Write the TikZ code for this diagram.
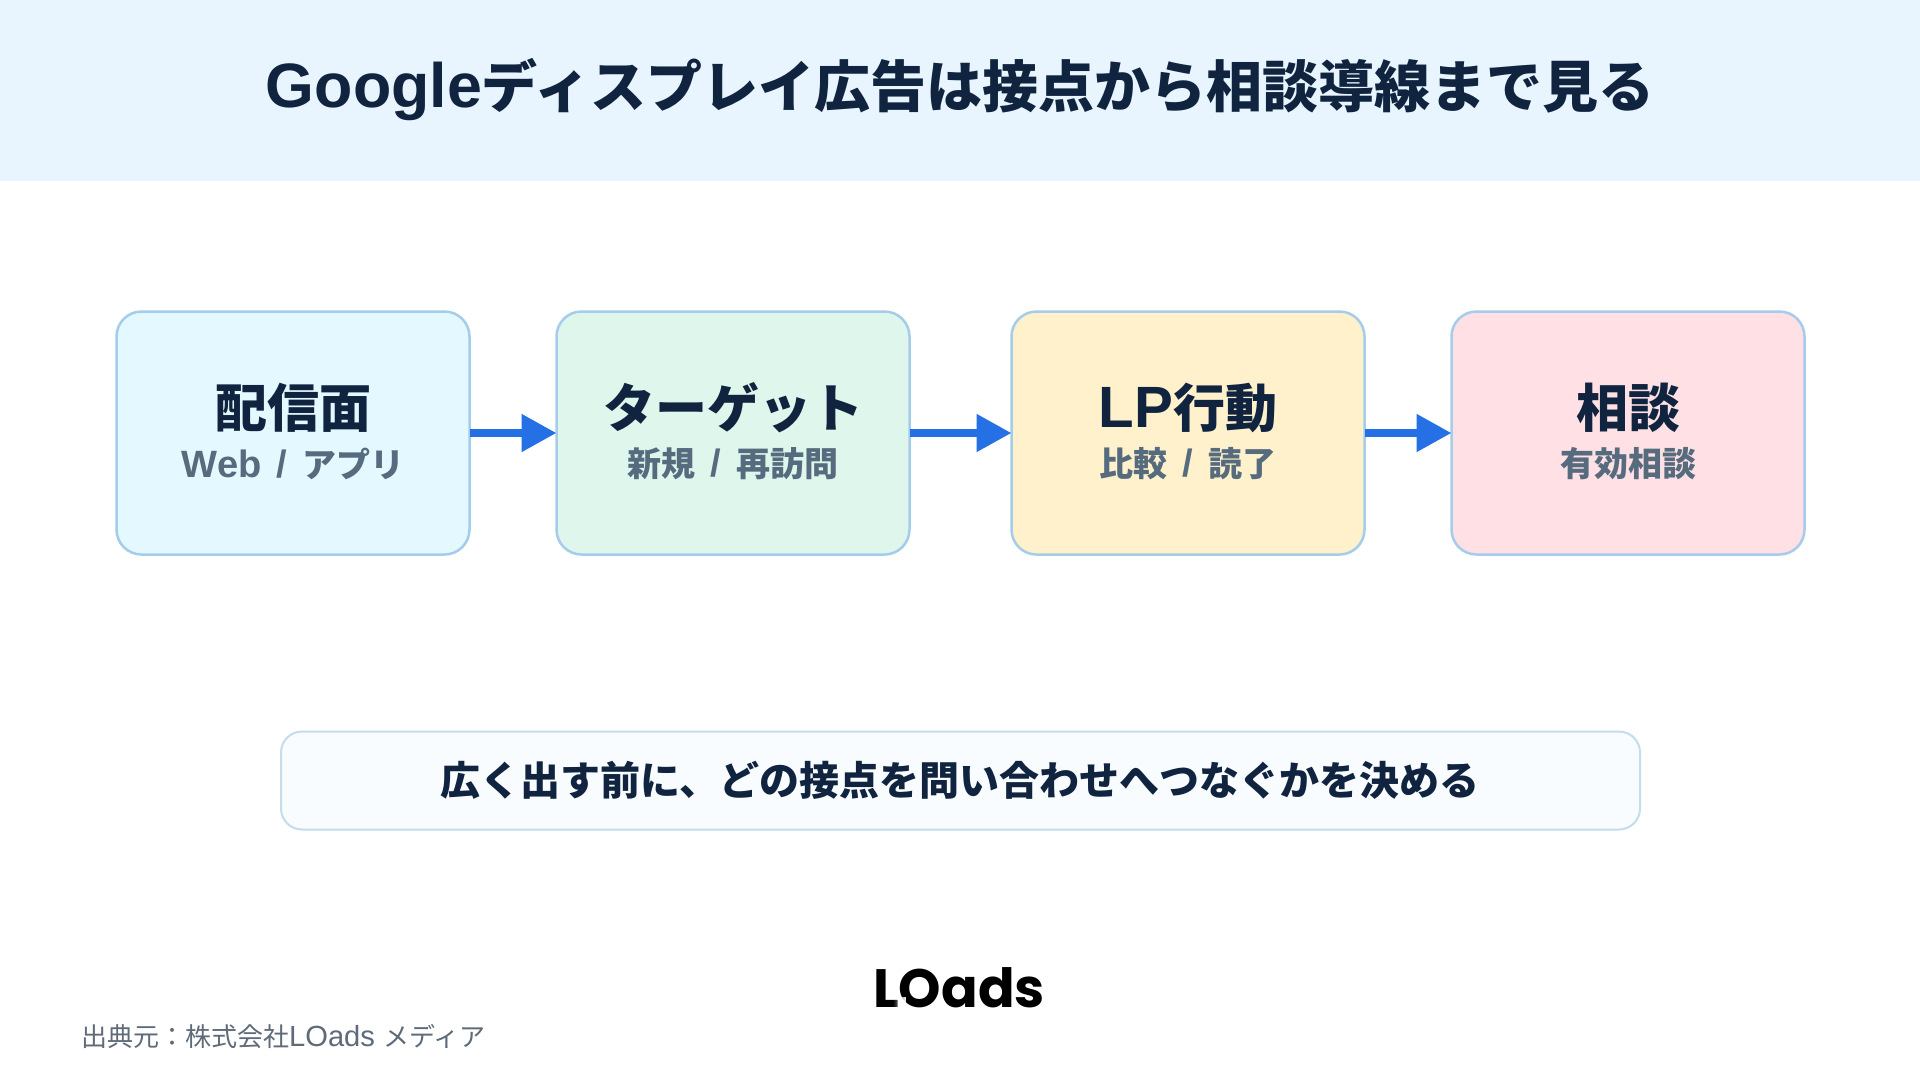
\documentclass[tikz,border=0pt]{standalone}
\usepackage{fontspec}
\usetikzlibrary{arrows.meta,fadings}
\setmainfont{Noto Sans CJK JP}
\newfontfamily\logofont{Poppins}
\newfontfamily\latf[Scale=1.12]{Liberation Sans}
\newcommand{\lt}[1]{{\latf #1}}
\newcommand{\slashsep}{\hspace{.44em}{\latf /}\hspace{.44em}}
\definecolor{ink}{HTML}{10233F}
\definecolor{subink}{HTML}{566B7E}
\definecolor{edge}{HTML}{A5CCEB}
\definecolor{headbg}{HTML}{E8F5FF}
\definecolor{flow}{HTML}{2470E4}
\definecolor{cA}{HTML}{E3F8FF}
\definecolor{cB}{HTML}{DFF6EC}
\definecolor{cC}{HTML}{FFF1CC}
\definecolor{cD}{HTML}{FFE0E4}
\definecolor{noteedge}{HTML}{C3DDEB}
\definecolor{notefill}{HTML}{F8FCFF}
\definecolor{srcink}{HTML}{5F6B7A}
\tikzset{
  x=1pt,y=-1pt,
  stage/.style={draw=edge,line width=2.5pt,rounded corners=25pt,minimum width=353pt,minimum height=243pt,inner sep=0pt,outer sep=0pt,anchor=center},
  mainlab/.style={inner sep=0pt,text=ink,font=\fontsize{52}{60}\selectfont\bfseries},
  sublab/.style={inner sep=0pt,text=subink,font=\fontsize{34}{42}\selectfont\bfseries},
  flowarrow/.style={draw=flow,line width=8pt,-{Triangle[length=35pt,width=36pt]}},
}
\begin{document}
\begin{tikzpicture}
\useasboundingbox (0,0) rectangle (1920,1080);
\fill[white] (0,0) rectangle (1920,1080);
\fill[headbg] (0,0) rectangle (1920,181);
\node[inner sep=0pt,text=ink,font=\fontsize{56}{66}\selectfont\bfseries] (title) at (960,90) {\lt{Google}ディスプレイ広告は接点から相談導線まで見る};
\node[stage,fill=cA] (s1) at (293,433) {};
\node[stage,fill=cB] (s2) at (733,433) {};
\node[stage,fill=cC] (s3) at (1188,433) {};
\node[stage,fill=cD] (s4) at (1628,433) {};
\node[mainlab] (m1) at (293,408) {配信面};
\node[sublab] (l1) at (293,464) {\lt{Web}\slashsep アプリ};
\node[mainlab] (m2) at (733,408) {ターゲット};
\node[sublab] (l2) at (733,464) {新規\slashsep 再訪問};
\node[mainlab] (m3) at (1188,408) {\lt{LP}行動};
\node[sublab] (l3) at (1188,464) {比較\slashsep 読了};
\node[mainlab] (m4) at (1628,408) {相談};
\node[sublab] (l4) at (1628,464) {有効相談};
\draw[flowarrow] (s1.east) -- (s2.west);
\draw[flowarrow] (s2.east) -- (s3.west);
\draw[flowarrow] (s3.east) -- (s4.west);
\node[draw=noteedge,fill=notefill,line width=2pt,rounded corners=21pt,minimum width=1359pt,minimum height=98pt,inner sep=0pt] (note) at (960.5,780.5) {};
\node[inner sep=0pt,text=ink,font=\fontsize{40}{48}\selectfont\bfseries] (notetext) at (960,780) {広く出す前に、どの接点を問い合わせへつなぐかを決める};
\node[inner sep=0pt,anchor=base,text=black,font=\logofont\fontsize{54}{60}\selectfont\bfseries] (logo) at (959,1007) {LOads};
\fill[white,path fading=west] (893,997) rectangle (906,1009);
\node[inner sep=0pt,anchor=west,text=srcink,font=\fontsize{26}{32}\selectfont] (src) at (81,1036) {出典元：株式会社\lt{LOads }メディア};
\end{tikzpicture}
\end{document}
